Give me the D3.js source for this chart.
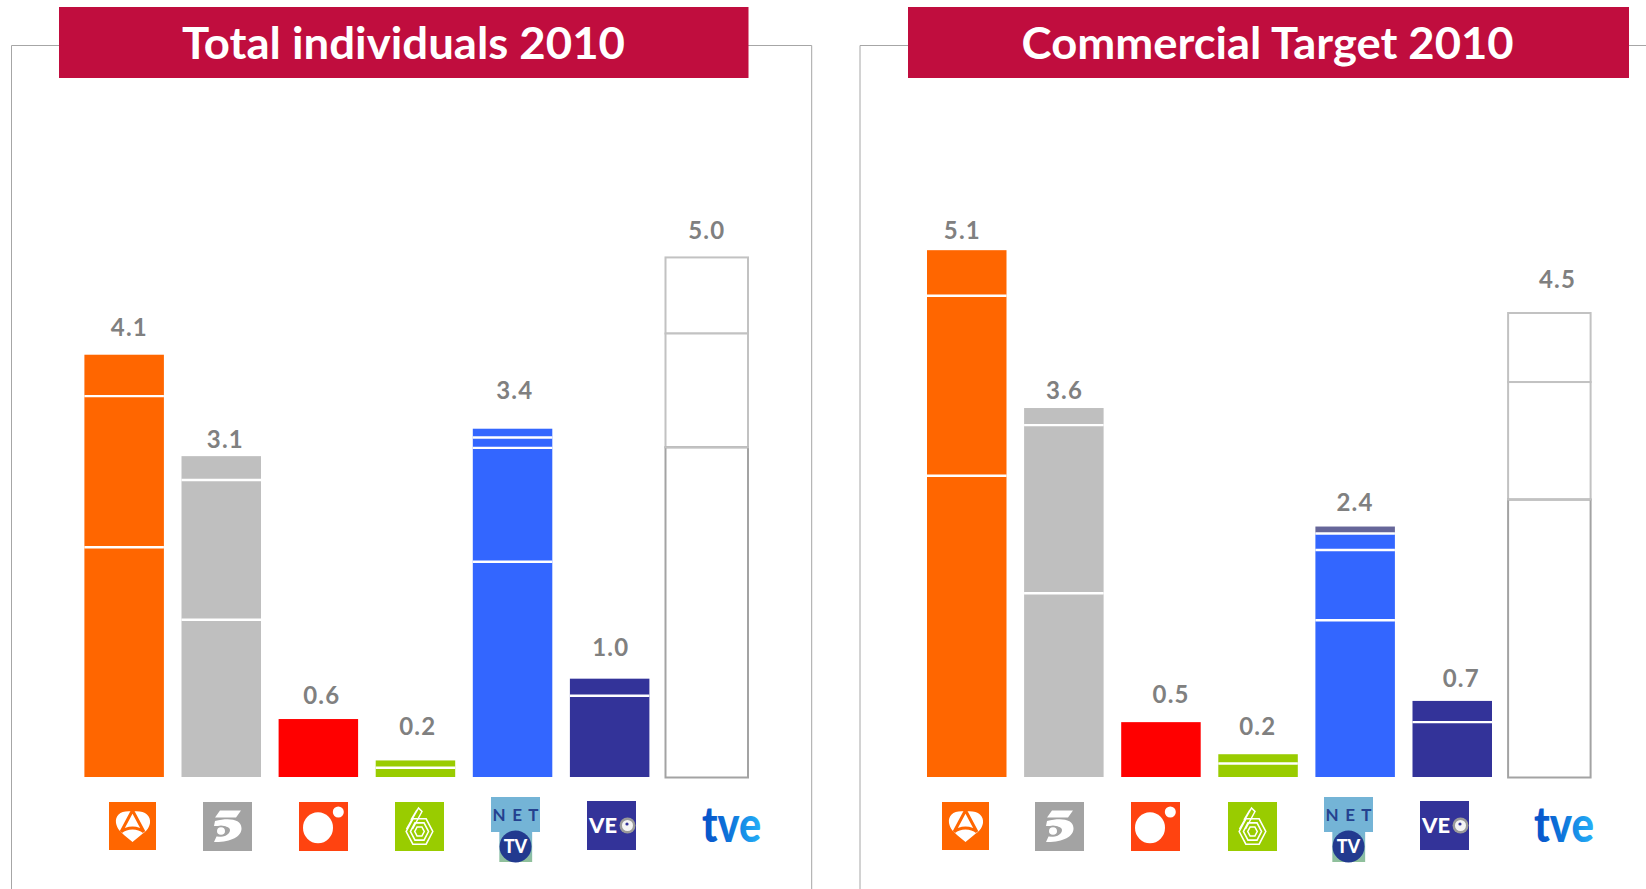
<!DOCTYPE html>
<html>
<head>
<meta charset="utf-8">
<title>Total individuals / Commercial Target 2010</title>
<script src="https://cdn.jsdelivr.net/npm/d3@7/dist/d3.min.js"></script>
<style>
html,body{margin:0;padding:0;background:#fff;overflow:hidden}
svg{display:block}
</style>
</head>
<body>
<svg id="chart" width="1646" height="889"></svg>
<script>
// ---------- data ----------
const channels = ["Antena 3","Telecinco","Cuatro","La Sexta","Net TV","Veo","TVE"];
const panelTitles = ["Total individuals 2010","Commercial Target 2010"];

const totalIndividualsLabels = ["4.1","3.1","0.6","0.2","3.4","1.0","5.0"];
const commercialTargetLabels = ["5.1","3.6","0.5","0.2","2.4","0.7","4.5"];

// stacked segments, bottom to top
const totalIndividualsSegments = [
  [2.22,1.46,0.40],
  [1.52,1.35,0.23],
  [0.56],
  [0.09,0.07],
  [2.08,1.10,0.10,0.085],
  [0.785,0.165],
  [3.185,1.10,0.735]
];
const commercialTargetSegments = [
  [2.91,1.74,0.44],
  [1.775,1.625,0.165],
  [0.53],
  [0.13,0.09],
  [1.514,0.679,0.159,0.068],
  [0.53,0.205],
  [2.68,1.136,0.667]
];

// ---------- layout & style ----------
const channelColors = ["#ff6600","#bfbfbf","#ff0000","#99cc00","#3366ff","#333399","#ffffff"];
const W = 1646, H = 889, baseY = 777, unitPx = 103.5, step = 97.1, barW = 79.5;
const panels = [
  {title:panelTitles[0], labels:totalIndividualsLabels, segs:totalIndividualsSegments,
   x0:84.4, frame:[11.5,811.7], banner:[59,748.5], titleX:403.5, titleW:443,
   labelDx:[5.2,4.1,3.4,2.3,2.2,1.1,0], labelGap:[27.3,17.2,23.6,34.4,38.2,31.7,26.8],
   logos:[[109,802,47,48],[203,802,49,49],[299,802,49,49],[395,802,49,49],[491,797,49,65],[587,801,49,49],[702,807,59,37]]},
  {title:panelTitles[1], labels:commercialTargetLabels, segs:commercialTargetSegments,
   x0:927, frame:[860,null], banner:[908,1629], titleX:1267.6, titleW:492,
   labelDx:[-4.4,0.6,10.2,-0.3,-0.1,9,8.1], labelGap:[19.5,17.5,27.8,27.6,24,22.4,33.9],
   logos:[[942,802,47,48],[1035,802,49,49],[1131,802,49,49],[1228,802,49,49],[1324,797,49,65],[1420,801,49,49],[1534,807,60,37]]}
];
const FONT = "Lato, 'Open Sans', sans-serif";
const svg = d3.select("#chart");

const defs = svg.append("defs");
const tveGrad = defs.append("linearGradient").attr("id","tveGrad");
tveGrad.append("stop").attr("offset","0%").attr("stop-color","#0650c8");
tveGrad.append("stop").attr("offset","50%").attr("stop-color","#0f78dc");
tveGrad.append("stop").attr("offset","100%").attr("stop-color","#25b0f8");
const tvGrad = defs.append("linearGradient").attr("id","tvBg").attr("x2",0).attr("y2",1);
tvGrad.append("stop").attr("offset","0%").attr("stop-color","#74b4d6");
tvGrad.append("stop").attr("offset","100%").attr("stop-color","#90c09a");

const y = d3.scaleLinear().domain([0,5.4]).range([baseY, baseY-5.4*unitPx]);
const logoFns = [logoAntena,logoCinco,logoCuatro,logoSexta,logoNet,logoVeo,logoTve];

panels.forEach(p => {
  const g = svg.append("g");
  // frame
  const [fl,fr] = p.frame;
  const framePath = fr===null
    ? `M${fl},${H}V45.5H${W}`
    : `M${fl},${H}V45.5H${fr}V${H}`;
  g.append("path").attr("d",framePath).attr("fill","none").attr("stroke","#a6a6a6").attr("stroke-width",1);

  // banner
  g.append("rect").attr("x",p.banner[0]).attr("y",7).attr("width",p.banner[1]-p.banner[0]).attr("height",71).attr("fill","#c00d3e");
  g.append("text").text(p.title).attr("x",p.titleX).attr("y",59).attr("text-anchor","middle")
    .attr("font-family",FONT).attr("font-weight",700).attr("font-size",44).attr("fill","#fff")
    .attr("textLength",p.titleW).attr("lengthAdjust","spacingAndGlyphs");

  // bars
  const x = d3.scaleBand().domain(channels).range([p.x0,p.x0+6*step+barW]).paddingInner(1-barW/step);
  const keys = [0,1,2,3];
  const table = channels.map((c,i)=>{
    const r = {channel:c};
    keys.forEach(k=>r[k]=p.segs[i][k]||0);
    return r;
  });
  const layers = d3.stack().keys(keys)(table);
  const tveL = c => x(c)-1.5, tveW = x.bandwidth()+3;
  layers.slice().reverse().forEach(layer=>{
    const k = layer.key;
    layer.forEach((d,i)=>{
      if(d[1]-d[0] <= 0) return;
      const c = channels[i], isTve = i===6;
      const isTopRight = (p.title===panelTitles[1] && i===4 && k===3);
      const top = y(d[1]), bot = y(d[0]);
      if(isTve){
        g.append("rect").attr("x",tveL(c)).attr("y",top).attr("width",tveW).attr("height",bot-top+(k===0?0.5:0))
          .attr("fill","#fff").attr("stroke",k===0?"#a3a3a3":"#c2c2c2").attr("stroke-width",2);
      } else {
        g.append("rect").attr("x",x(c)).attr("y",top).attr("width",x.bandwidth()).attr("height",bot-top)
          .attr("fill",isTopRight?"#666699":channelColors[i]);
      }
    });
  });
  // separators between segments
  channels.forEach((c,i)=>{
    if(i===6){
      const cum = d3.cumsum(p.segs[i]);
      g.append("line").attr("x1",tveL(c)-1).attr("x2",tveL(c)+tveW+1)
        .attr("y1",y(cum[0])).attr("y2",y(cum[0])).attr("stroke","#c2c2c2").attr("stroke-width",2);
      return;
    }
    d3.cumsum(p.segs[i]).slice(0,-1).forEach(v=>{
      g.append("line").attr("x1",x(c)).attr("x2",x(c)+x.bandwidth())
        .attr("y1",y(v)).attr("y2",y(v)).attr("stroke","#fff").attr("stroke-width",2.4);
    });
  });
  // value labels
  channels.forEach((c,i)=>{
    const total = d3.sum(p.segs[i]);
    g.append("text").text(p.labels[i])
      .attr("x",x(c)+x.bandwidth()/2+p.labelDx[i])
      .attr("y",y(total)-p.labelGap[i]+8.6)
      .attr("text-anchor","middle").attr("font-family",FONT).attr("font-weight",700)
      .attr("font-size",24).attr("letter-spacing",1.2).attr("fill","#808080");
  });
  // logos
  logoFns.forEach((fn,i)=>{
    const [lx,ly,lw,lh] = p.logos[i];
    fn(g.append("g").attr("transform",`translate(${lx},${ly})`),lw,lh);
  });
});

function logoAntena(g,w,h){
  g.append("rect").attr("width",w).attr("height",h).attr("fill","#ff6600");
  g.append("path").attr("d","M23.5,9.5C12,8 6,13 7,21C8,27 12,30 15,33L23.5,40L32,33C36,30 40,27 41,21C42,13 35,8 23.5,9.5Z").attr("fill","#fff");
  g.append("path").attr("d","M12,30L23.5,8.5L35,30M12,30C18,24.5 29,24.5 35,30").attr("fill","none").attr("stroke","#ff6600").attr("stroke-width",3);
}
function logoCinco(g,w,h){
  g.append("rect").attr("width",w).attr("height",h).attr("fill","#a3a3a3");
  g.append("path").attr("d","M17,8.5H38L33,15.5H12Z").attr("fill","#fff");
  g.append("path").attr("d","M12,19C26,15.5 38,17 38.5,26C39,35 27,40.5 11,40L13.5,34.5C20,35 27,33 27,28C27,24 20,24 11,24Z").attr("fill","#fff");
  g.append("ellipse").attr("cx",18).attr("cy",29).attr("rx",8).attr("ry",5.5).attr("fill","#a3a3a3");
  g.append("ellipse").attr("cx",18).attr("cy",29).attr("rx",4).attr("ry",3.8).attr("fill","#fff");
}
function logoCuatro(g,w,h){
  g.append("rect").attr("width",w).attr("height",h).attr("fill","#ff4310");
  g.append("ellipse").attr("cx",19).attr("cy",25.7).attr("rx",15).attr("ry",15.5).attr("fill","#fff");
  g.append("circle").attr("cx",39.3).attr("cy",10).attr("r",5.5).attr("fill","#fff");
}
function logoSexta(g,w,h){
  g.append("rect").attr("width",w).attr("height",h).attr("fill","#99cc00");
  const hex = r => d3.range(6).map(a=>{
    const t = Math.PI/3*a;
    return [24.5+r*Math.cos(t)*0.95, 29.5+r*Math.sin(t)*1.05];
  }).join("L");
  [14,9.5,5].forEach(r=>g.append("path").attr("d","M"+hex(r)+"Z").attr("fill","none").attr("stroke","#fff").attr("stroke-width",1.6));
  g.append("path").attr("d","M11.5,27L23.5,6L27,9.5L17.5,27M16,18L22,8").attr("fill","none").attr("stroke","#fff").attr("stroke-width",1.5);
}
function logoNet(g,w,h){
  g.append("rect").attr("x",w*0.17).attr("y",35).attr("width",w*0.67).attr("height",30).attr("fill","url(#tvBg)");
  g.append("rect").attr("width",w).attr("height",35).attr("fill","#74b4d6");
  g.append("text").text("N E T").attr("x",w/2).attr("y",24).attr("text-anchor","middle")
    .attr("font-family",FONT).attr("font-weight",700).attr("font-size",17).attr("fill","#24418f")
    .attr("textLength",w-3).attr("lengthAdjust","spacing");
  g.append("circle").attr("cx",w/2).attr("cy",49.5).attr("r",16).attr("fill","#223a8f");
  g.append("text").text("TV").attr("x",w/2).attr("y",56).attr("text-anchor","middle")
    .attr("font-family",FONT).attr("font-weight",900).attr("font-size",18).attr("fill","#fff");
}
function logoVeo(g,w,h){
  g.append("rect").attr("width",w).attr("height",h).attr("fill","#333399");
  g.append("text").text("VE").attr("x",2).attr("y",31.5)
    .attr("font-family",FONT).attr("font-weight",900).attr("font-size",21).attr("fill","#fff")
    .attr("textLength",28).attr("lengthAdjust","spacingAndGlyphs");
  g.append("circle").attr("cx",40.5).attr("cy",24.5).attr("r",8).attr("fill","#9a9a9a");
  g.append("circle").attr("cx",40.5).attr("cy",24.5).attr("r",5.5).attr("fill","#f4f4f4");
  g.append("circle").attr("cx",40).attr("cy",23).attr("r",1.6).attr("fill","#333399");
}
function logoTve(g,w,h){
  g.append("text").text("tve").attr("x",w/2).attr("y",h-2.5).attr("text-anchor","middle")
    .attr("font-family",FONT).attr("font-weight",900).attr("font-size",50).attr("fill","url(#tveGrad)")
    .attr("textLength",w).attr("lengthAdjust","spacingAndGlyphs");
}
</script>
</body>
</html>
